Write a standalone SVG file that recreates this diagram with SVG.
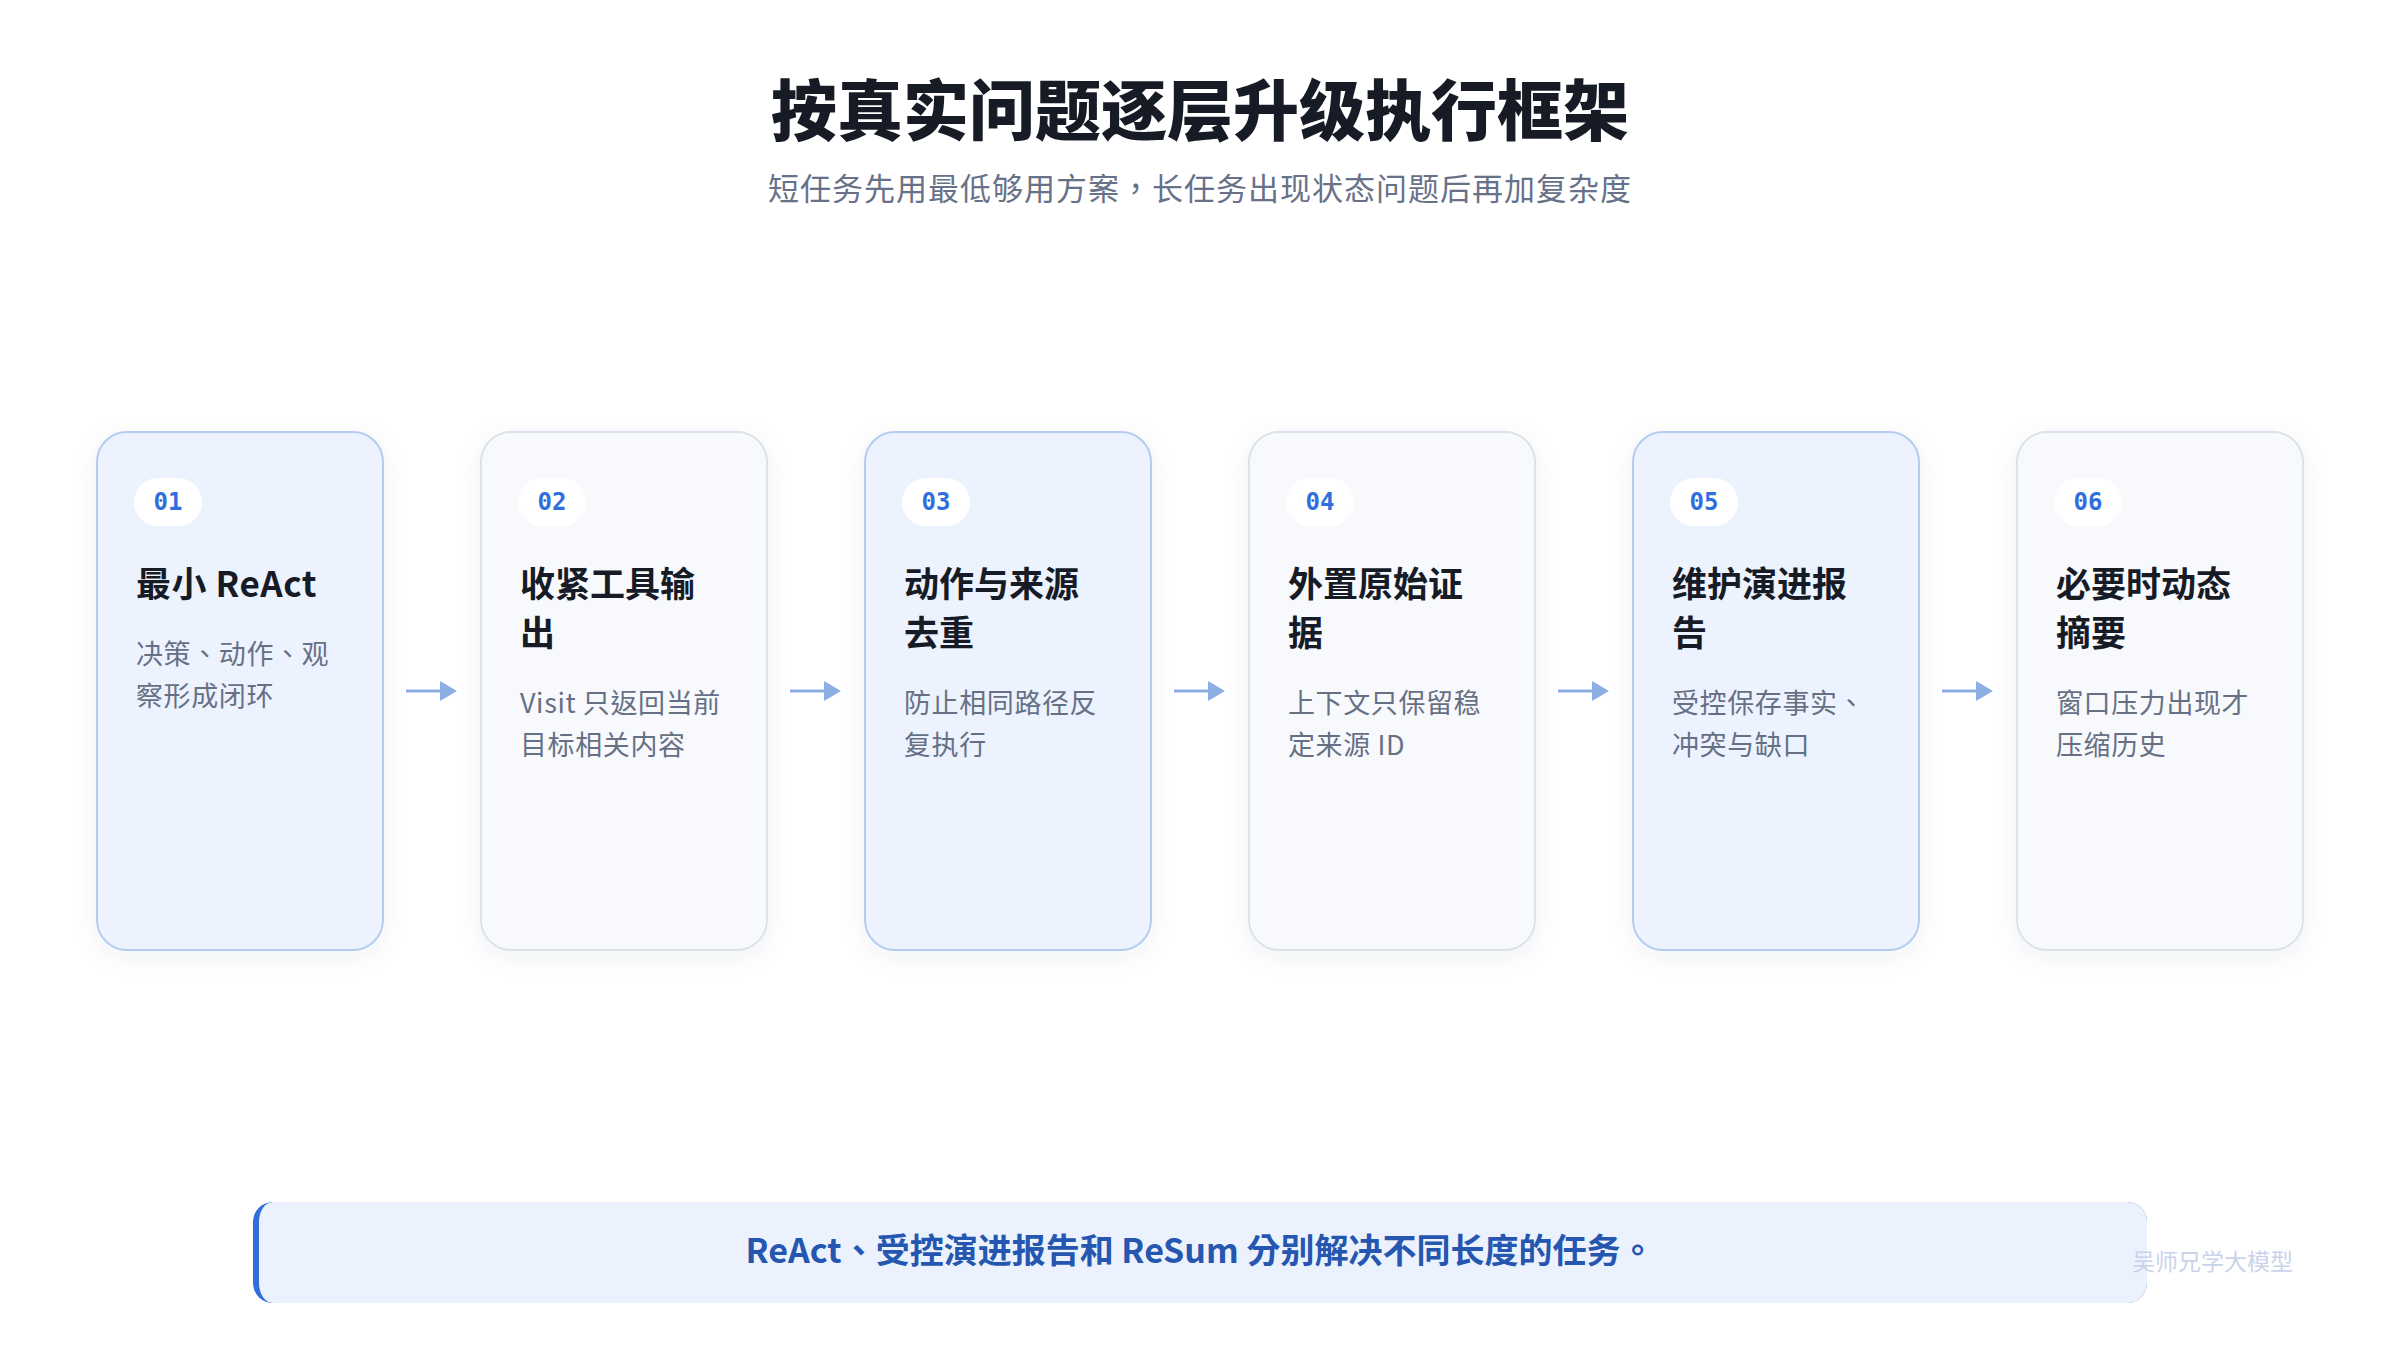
<svg xmlns="http://www.w3.org/2000/svg" width="2400" height="1350" viewBox="0 0 2400 1350">
  <defs>
    <filter id="shadow" x="-20%" y="-20%" width="140%" height="140%">
      <feDropShadow dx="0" dy="6" stdDeviation="12" flood-color="#1e3a6e" flood-opacity="0.06"/>
    </filter>
    <clipPath id="bannerClip">
      <rect x="253" y="1202" width="1894" height="101" rx="20" ry="20"/>
    </clipPath>
  </defs>
  <style>
    .card-a { fill: #edf3fe; stroke: #b5ccf0; stroke-width: 2; }
    .card-b { fill: #f7f9fd; stroke: #dbe2ed; stroke-width: 2; }
    .badge { fill: #ffffff; }
    .num { font-family: "DejaVu Sans Mono", "Liberation Mono", monospace; font-weight: 700; font-size: 24px; fill: #2f6fdc; text-anchor: middle; }
    .ttl { font-family: "Noto Sans CJK TC", "Noto Sans CJK SC", sans-serif; font-weight: 700; font-size: 35px; fill: #161b26; }
    .dsc { font-family: "Noto Sans CJK TC", "Noto Sans CJK SC", sans-serif; font-weight: 400; font-size: 27px; letter-spacing: 0.6px; fill: #667085; }
    .arrow-line { stroke: #8daee3; stroke-width: 3; fill: none; }
    .arrow-head { fill: #8daee3; }
  </style>
  <rect width="2400" height="1350" fill="#ffffff"/>

  <text x="1200" y="135" text-anchor="middle" font-family="'Noto Sans CJK SC', sans-serif" font-weight="900" font-size="66" fill="#161b26">按真实问题逐层升级执行框架</text>
  <text x="1200" y="200" text-anchor="middle" font-family="'Noto Sans CJK TC', 'Noto Sans CJK SC', sans-serif" font-size="31" fill="#677188" letter-spacing="1">短任务先用最低够用方案，长任务出现状态问题后再加复杂度</text>

  <g id="connectors">
    <g><line class="arrow-line" x1="406" y1="691" x2="442" y2="691"/><polygon class="arrow-head" points="440,681 457,691 440,701"/></g>
    <g><line class="arrow-line" x1="790" y1="691" x2="826" y2="691"/><polygon class="arrow-head" points="824,681 841,691 824,701"/></g>
    <g><line class="arrow-line" x1="1174" y1="691" x2="1210" y2="691"/><polygon class="arrow-head" points="1208,681 1225,691 1208,701"/></g>
    <g><line class="arrow-line" x1="1558" y1="691" x2="1594" y2="691"/><polygon class="arrow-head" points="1592,681 1609,691 1592,701"/></g>
    <g><line class="arrow-line" x1="1942" y1="691" x2="1978" y2="691"/><polygon class="arrow-head" points="1976,681 1993,691 1976,701"/></g>
  </g>

  <g id="node-01">
    <rect class="card-a" x="97" y="432" width="286" height="518" rx="30" filter="url(#shadow)"/>
    <rect class="badge" x="134" y="478" width="68" height="48" rx="24"/>
    <text class="num" x="168" y="510">01</text>
    <text class="ttl" x="136" y="597" letter-spacing="0.5">最小 ReAct</text>
    <text class="dsc" x="136" y="664">决策、动作、观</text>
    <text class="dsc" x="136" y="706">察形成闭环</text>
  </g>

  <g id="node-02">
    <rect class="card-b" x="481" y="432" width="286" height="518" rx="30" filter="url(#shadow)"/>
    <rect class="badge" x="518" y="478" width="68" height="48" rx="24"/>
    <text class="num" x="552" y="510">02</text>
    <text class="ttl" x="520" y="597">收紧工具输</text>
    <text class="ttl" x="520" y="646">出</text>
    <text class="dsc" x="520" y="713">Visit 只返回当前</text>
    <text class="dsc" x="520" y="755">目标相关内容</text>
  </g>

  <g id="node-03">
    <rect class="card-a" x="865" y="432" width="286" height="518" rx="30" filter="url(#shadow)"/>
    <rect class="badge" x="902" y="478" width="68" height="48" rx="24"/>
    <text class="num" x="936" y="510">03</text>
    <text class="ttl" x="904" y="597">动作与来源</text>
    <text class="ttl" x="904" y="646">去重</text>
    <text class="dsc" x="904" y="713">防止相同路径反</text>
    <text class="dsc" x="904" y="755">复执行</text>
  </g>

  <g id="node-04">
    <rect class="card-b" x="1249" y="432" width="286" height="518" rx="30" filter="url(#shadow)"/>
    <rect class="badge" x="1286" y="478" width="68" height="48" rx="24"/>
    <text class="num" x="1320" y="510">04</text>
    <text class="ttl" x="1288" y="597">外置原始证</text>
    <text class="ttl" x="1288" y="646">据</text>
    <text class="dsc" x="1288" y="713">上下文只保留稳</text>
    <text class="dsc" x="1288" y="755">定来源 ID</text>
  </g>

  <g id="node-05">
    <rect class="card-a" x="1633" y="432" width="286" height="518" rx="30" filter="url(#shadow)"/>
    <rect class="badge" x="1670" y="478" width="68" height="48" rx="24"/>
    <text class="num" x="1704" y="510">05</text>
    <text class="ttl" x="1672" y="597">维护演进报</text>
    <text class="ttl" x="1672" y="646">告</text>
    <text class="dsc" x="1672" y="713">受控保存事实、</text>
    <text class="dsc" x="1672" y="755">冲突与缺口</text>
  </g>

  <g id="node-06">
    <rect class="card-b" x="2017" y="432" width="286" height="518" rx="30" filter="url(#shadow)"/>
    <rect class="badge" x="2054" y="478" width="68" height="48" rx="24"/>
    <text class="num" x="2088" y="510">06</text>
    <text class="ttl" x="2056" y="597">必要时动态</text>
    <text class="ttl" x="2056" y="646">摘要</text>
    <text class="dsc" x="2056" y="713">窗口压力出现才</text>
    <text class="dsc" x="2056" y="755">压缩历史</text>
  </g>

  <g id="banner">
    <g clip-path="url(#bannerClip)">
      <rect x="253" y="1202" width="1894" height="101" fill="#2f6fdc"/>
      <rect x="259" y="1202" width="1950" height="101" rx="14" ry="20" fill="#ebf2fe"/>
    </g>
    <text x="1200" y="1263" text-anchor="middle" font-family="'Noto Sans CJK TC', 'Noto Sans CJK SC', sans-serif" font-weight="700" font-size="34" fill="#2556b0">ReAct、受控演进报告和 ReSum 分别解决不同长度的任务。</text>
  </g>

  <text x="2132" y="1270" font-family="'Noto Sans CJK SC', sans-serif" font-size="23" fill="#c9d3ea">吴师兄学大模型</text>
</svg>
